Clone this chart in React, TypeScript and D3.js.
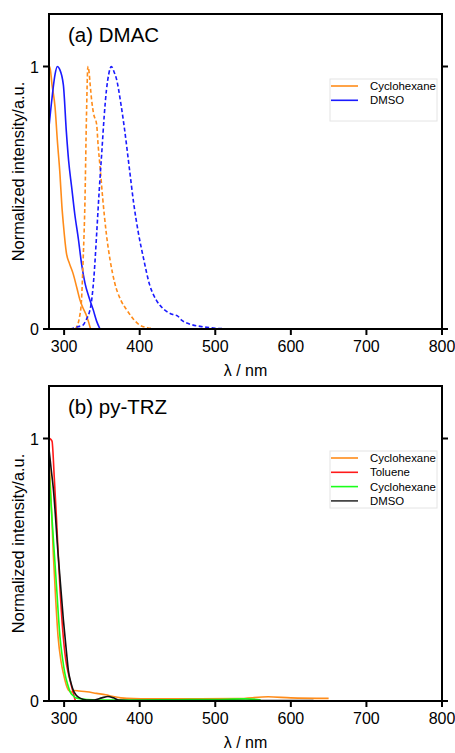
import * as d3 from 'd3';
import React from 'react';

// wavelength range and y range shared by both panels
const xDomain = [280, 800];
const yDomain = [0, 1.2];
const xTicks = [300, 400, 500, 600, 700, 800];
const yTicks = [0, 1];

// (a) DMAC  [nm, normalized intensity]
const dmacCyclohexaneAbs = [
  [280, 1.0], [281, 1.0], [284, 0.93], [288, 0.845], [291, 0.72], [294.5, 0.59], [297, 0.47],
  [299, 0.4], [303, 0.29], [307, 0.25], [312, 0.21], [317, 0.155], [321, 0.11], [325, 0.08],
  [329, 0.055], [332, 0.03], [335, 0],
];
const dmacDmsoAbs = [
  [280, 0.77], [284, 0.88], [288, 0.97], [291, 1.0], [294, 0.99], [299, 0.93], [303, 0.75],
  [306, 0.64], [310, 0.54], [314, 0.44], [319, 0.34], [323, 0.25], [327.6, 0.175], [333, 0.12],
  [338.6, 0.072], [343, 0.03], [347.5, 0],
];
const dmacCyclohexaneEm = [
  [315, 0], [317, 0.01], [320, 0.04], [323, 0.11], [325, 0.25], [327.6, 0.49], [329.5, 0.8],
  [331.5, 1.0], [333, 0.98], [334.5, 0.93], [336.5, 0.87], [339, 0.82], [343, 0.78], [345, 0.7],
  [347.5, 0.62], [351, 0.5], [356, 0.36], [361, 0.26], [367, 0.175], [375, 0.11], [383, 0.072],
  [391, 0.04], [400, 0.015], [410, 0.005], [422, 0],
];
const dmacDmsoEm = [
  [308, 0], [315, 0.005], [320, 0.01], [325, 0.015], [330, 0.04], [333, 0.06], [336, 0.1],
  [340, 0.22], [343, 0.36], [346.5, 0.53], [350, 0.68], [353, 0.81], [356, 0.91], [359, 0.97],
  [362.5, 1.0], [366, 0.98], [369.5, 0.95], [375, 0.86], [380, 0.76], [386, 0.62], [392, 0.48],
  [398, 0.37], [405, 0.27], [413, 0.17], [422, 0.11], [432, 0.075], [444, 0.055], [450, 0.05],
  [455, 0.035], [465, 0.02], [480, 0.01], [500, 0.003], [520, 0],
];

// (b) py-TRZ
const trzCyclohexaneA = [
  [280, 0.94], [283, 0.75], [285.7, 0.56], [289, 0.38], [292, 0.245], [296, 0.15], [299, 0.105],
  [305.6, 0.042], [310, 0.034], [313, 0.04], [320, 0.038], [330, 0.035], [343, 0.029], [355, 0.024],
  [365, 0.017], [375, 0.012], [383, 0.01], [420, 0.008], [480, 0.008], [530, 0.009], [570, 0.016],
  [600, 0.012], [650, 0.01],
];
const trzToluene = [
  [281, 1.0], [284, 0.99], [287, 0.85], [290, 0.69], [294.5, 0.43], [299, 0.24], [302, 0.16],
  [305.6, 0.105], [310, 0.054], [313, 0.02], [315, 0],
];
const trzCyclohexaneB = [
  [280, 0.875], [283, 0.74], [285.7, 0.62], [290, 0.435], [294.5, 0.245], [298, 0.16], [301, 0.105],
  [305, 0.06], [308, 0.035], [312, 0.02], [316.6, 0.011], [330, 0.006], [360, 0.004], [400, 0.004],
  [450, 0.005], [500, 0.006], [540, 0.008], [560, 0.005],
];
const trzDmso = [
  [280, 0.96], [283, 0.88], [285.7, 0.81], [292, 0.56], [299, 0.31], [303, 0.19], [305.6, 0.117],
  [309, 0.07], [312, 0.042], [316, 0.022], [321, 0.011], [330, 0.004], [340, 0.004], [350, 0.012],
  [358, 0.017], [365, 0.012], [372, 0.004], [400, 0.002], [500, 0.002], [630, 0.002],
];

const ORANGE = '#ff8c1a';
const BLUE = '#1a1aff';

const panels = [
  {
    title: '(a) DMAC',
    top: 14,
    bottom: 329,
    series: [
      { data: dmacCyclohexaneAbs, color: ORANGE, dash: null },
      { data: dmacDmsoAbs, color: BLUE, dash: null },
      { data: dmacCyclohexaneEm, color: ORANGE, dash: '4,2.5' },
      { data: dmacDmsoEm, color: BLUE, dash: '4,2.5' },
    ],
    legend: [
      { label: 'Cyclohexane', color: ORANGE },
      { label: 'DMSO', color: BLUE },
    ],
    legendTop: 79,
    legendHeight: 42,
  },
  {
    title: '(b) py-TRZ',
    top: 386,
    bottom: 701,
    series: [
      { data: trzCyclohexaneA, color: ORANGE, dash: null },
      { data: trzToluene, color: '#ff1a1a', dash: null },
      { data: trzCyclohexaneB, color: '#1aff1a', dash: null },
      { data: trzDmso, color: '#111', dash: null },
    ],
    legend: [
      { label: 'Cyclohexane', color: ORANGE },
      { label: 'Toluene', color: '#ff1a1a' },
      { label: 'Cyclohexane', color: '#1aff1a' },
      { label: 'DMSO', color: '#333' },
    ],
    legendTop: 451,
    legendHeight: 57,
  },
];

const left = 49;
const right = 442;
const font = '"Liberation Sans", Arial, sans-serif';

function Panel({ p }) {
  const x = d3.scaleLinear().domain(xDomain).range([left, right]);
  const y = d3.scaleLinear().domain(yDomain).range([p.bottom, p.top]);
  const line = d3.line().x(d => x(d[0])).y(d => y(d[1])).curve(d3.curveMonotoneX);
  const midY = (p.top + p.bottom) / 2;

  return (
    <g>
      <defs>
        <clipPath id={'clip' + p.top}>
          <rect x={left} y={p.top} width={right - left} height={p.bottom - p.top} />
        </clipPath>
      </defs>
      <g clipPath={`url(#clip${p.top})`}>
        {p.series.map((s, i) => (
          <path key={i} d={line(s.data)} fill="none" stroke={s.color} strokeWidth={1.6}
            strokeDasharray={s.dash ?? undefined} />
        ))}
      </g>
      <rect x={left} y={p.top} width={right - left} height={p.bottom - p.top}
        fill="none" stroke="#000" strokeWidth={2} />
      {xTicks.map(t => (
        <g key={t}>
          <line x1={x(t)} x2={x(t)} y1={p.bottom} y2={p.bottom + 6} stroke="#000" strokeWidth={2} />
          <text x={x(t)} y={p.bottom + 23} textAnchor="middle" fontSize={16} fontFamily={font}>{t}</text>
        </g>
      ))}
      {yTicks.map(t => (
        <g key={t}>
          <line x1={left - 6} x2={left} y1={y(t)} y2={y(t)} stroke="#000" strokeWidth={2} />
          <line x1={right} x2={right + 6} y1={y(t)} y2={y(t)} stroke="#000" strokeWidth={2} />
          <text x={39} y={y(t) + 6} textAnchor="end" fontSize={16} fontFamily={font}>{t}</text>
        </g>
      ))}
      <text x={(left + right) / 2} y={p.bottom + 47} textAnchor="middle" fontSize={16} fontFamily={font}>λ / nm</text>
      <text transform={`translate(24,${midY}) rotate(-90)`} textAnchor="middle" fontSize={16.4}
        fontFamily={font}>Normalized intensity/a.u.</text>
      <text x={68} y={p.top + 28} fontSize={20.5} fontFamily={font}>{p.title}</text>
      <rect x={330} y={p.legendTop} width={107} height={p.legendHeight} fill="#fff" stroke="#e4e4e4" strokeWidth={1} />
      {p.legend.map((l, i) => {
        const ly = p.legendTop + 7 + i * 14.3;
        return (
          <g key={i}>
            <line x1={331} x2={358} y1={ly} y2={ly} stroke={l.color} strokeWidth={1.6} />
            <text x={370} y={ly + 4} fontSize={11.4} fontFamily={font}>{l.label}</text>
          </g>
        );
      })}
    </g>
  );
}

export default function App() {
  return (
    <svg width={455} height={753} style={{ position: 'absolute', left: 0, top: 0, background: '#fff' }}>
      {panels.map(p => <Panel key={p.title} p={p} />)}
    </svg>
  );
}
